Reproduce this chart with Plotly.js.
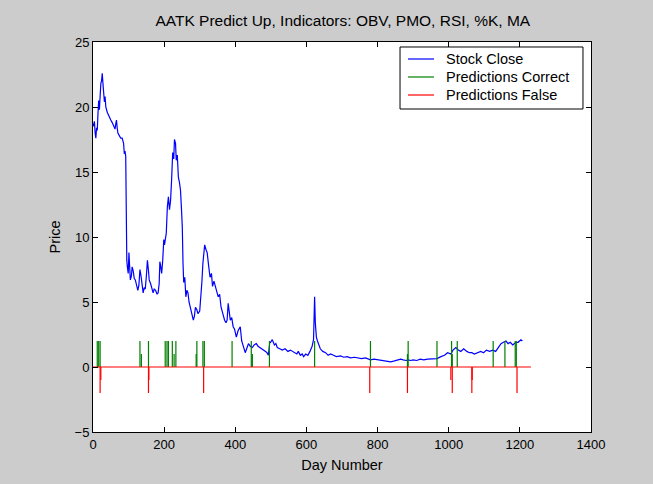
<!DOCTYPE html>
<html>
<head>
<meta charset="utf-8">
<script src="https://cdn.plot.ly/plotly-3.0.1.min.js"></script>
<style>html,body{margin:0;padding:0;background:#cccccc;}#chart{width:653px;height:484px;}</style>
</head>
<body>
<div id="chart"></div>
<script>
// Stock close (day number, price)
const days = [0,4,6,8,10,12,14,16,18,20,22,24,26,28,30,32,34,36,40,44,50,54,58,62,64,66,68,70,74,78,82,86,88,90,92,
93,95,97,99,101,103,105,108,110,113,116,119,122,126,129,132,135,138,141,144,147,150,153,156,158,162,166,169,172,176,180,183,186,188,190,193,196,199,201,203,206,209,212,215,218,221,224,227,229,232,234,237,240,243,246,249,251,253,255,258,261,264,267,270,273,276,279,282,285,288,292,295,300,303,306,309,312,314,318,321,325,329,333,336,340,344,348,352,356,360,364,367,370,374,377,380,383,386,390,394,398,403,408,414,418,423,428,432,437,442,448,453,459,464,470,477,485,489,493,497,499,504,510,514,518,525,532,540,548,555,562,569,573,577,583,588,592,598,604,610,616,620,623,625,628,631,635,639,646,654,661,668,676,684,696,705,714,724,735,745,755,766,773,780,790,800,810,820,830,837,845,855,865,872,880,886,893,900,910,920,930,940,949,958,967,978,988,997,1006,1012,1020,1027,1034,1042,1046,1051,1058,1065,1072,1082,1090,1098,1106,1115,1124,1132,1140,1147,1154,1161,1167,1173,1180,1185,1189,1195,1203,1207,1211,1216,1220,1224,1228,1231];
const closePrice = [18.5,18.9,18.0,17.6,18.4,18.2,19.5,20.5,19.8,21.0,21.8,22.0,22.6,21.8,21.3,20.4,20.8,20.0,19.6,19.3,19.0,18.8,18.6,18.3,18.7,19.0,18.4,18.0,17.8,17.6,17.6,17.2,16.4,16.6,16.2,
9.0,8.2,7.6,7.2,8.8,7.6,6.7,7.0,7.7,7.4,6.8,6.7,6.4,5.9,6.3,7.5,7.0,6.0,5.7,6.1,6.0,7.0,8.2,7.4,6.7,6.4,5.9,5.7,6.0,5.9,5.6,5.7,6.4,8.1,7.8,7.2,8.2,9.8,9.4,10.0,10.3,12.3,13.1,12.1,12.8,14.4,16.5,16.0,17.5,17.2,15.9,16.3,14.6,14.2,13.6,12.0,10.8,8.0,6.5,6.9,5.4,5.9,5.7,5.0,4.6,4.2,4.0,3.6,3.9,4.6,4.4,4.1,4.3,5.2,6.5,8.0,8.6,9.4,9.0,8.8,7.8,6.9,7.2,6.2,6.6,6.2,5.8,5.4,5.6,4.6,4.2,3.8,3.6,3.4,3.6,4.9,4.4,3.6,3.8,3.1,2.9,2.3,2.8,3.1,2.0,1.5,1.1,1.4,1.8,1.6,1.5,1.7,1.8,1.6,1.5,1.4,1.2,1.1,0.9,1.9,1.9,2.1,1.7,1.8,1.5,1.4,1.3,1.4,1.2,1.3,1.2,1.1,1.0,1.2,0.9,1.0,0.8,1.0,0.9,1.2,1.6,2.1,5.4,3.4,2.3,2.0,1.7,1.4,1.2,1.1,0.9,1.0,0.9,0.8,0.85,0.75,0.8,0.7,0.75,0.7,0.65,0.7,0.6,0.55,0.6,0.55,0.5,0.5,0.45,0.4,0.45,0.5,0.6,0.55,0.5,0.55,0.5,0.55,0.5,0.6,0.55,0.6,0.6,0.6,0.65,0.8,0.9,1.1,1.0,1.3,1.5,1.3,1.2,1.4,1.3,1.2,1.1,1.1,1.0,1.1,1.2,1.1,1.3,1.2,1.3,1.2,1.5,1.8,1.9,2.0,1.8,1.9,1.7,1.8,1.9,1.9,2.1,2.0];

// Prediction markers: day and signal height
const correctDays = [12,16,20,132,136,156,203,208,212,223,228,233,290,292,309,313,391,445,448,496,623,780,884,886,967,1008,1010,1024,1125,1158,1187,1190];
const correctHeights = [2,2,2,2,1,2,2,2,2,2,1,2,1,2,2,2,2,2,1,2,2,2,1,2,2,2,1,2,2,2,2,2];
const falseDays = [20,22,156,157,311,778,884,1006,1010,1065,1066,1192];
const falseHeights = [-2,-1,-2,-1,-2,-2,-2,-1,-2,-2,-1,-2];

const seriesNames = ['Stock Close','Predictions Correct','Predictions False'];
const seriesColors = ['#0000ff','#008000','#ff0000'];

function sticks(ds, hs){
  const x=[], y=[];
  ds.forEach((d,i)=>{ x.push(d,d,null); y.push(0,hs[i],null); });
  return {x,y};
}
const g = sticks(correctDays, correctHeights);
const r = sticks(falseDays, falseHeights);
r.x.push(days[0], days[days.length-1], null);
r.y.push(0, 0, null);

const traces = [
  {x: days, y: closePrice, type:'scatter', mode:'lines', name:seriesNames[0], line:{color:seriesColors[0], width:1.2}},
  {x: g.x, y: g.y, type:'scatter', mode:'lines', name:seriesNames[1], line:{color:seriesColors[1], width:1.2}, connectgaps:false},
  {x: r.x, y: r.y, type:'scatter', mode:'lines', name:seriesNames[2], line:{color:seriesColors[2], width:1.2}, connectgaps:false}
];

// MATLAB-style legend box (paper coordinates)
const fam = '"Liberation Sans", Arial, sans-serif';
const shapes = [{type:'rect', xref:'paper', yref:'paper', x0:0.6165, x1:0.9839, y0:0.8282, y1:0.9872, fillcolor:'#ffffff', line:{color:'#000', width:1}, layer:'above'}];
const annotations = [];
const rowY = [0.9564, 0.9103, 0.8641];
seriesNames.forEach((nm,i)=>{
  shapes.push({type:'line', xref:'paper', yref:'paper', x0:0.6325, x1:0.6847, y0:rowY[i], y1:rowY[i], line:{color:seriesColors[i], width:1.2}, layer:'above'});
  annotations.push({xref:'paper', yref:'paper', x:0.7048, y:rowY[i], xanchor:'left', yanchor:'middle', text:nm, showarrow:false, font:{family:fam, size:14.5, color:'#000'}});
});

const layout = {
  width:653, height:484,
  paper_bgcolor:'#cccccc', plot_bgcolor:'#ffffff',
  margin:{l:93, r:62, t:42, b:52},
  font: {family:fam, size:13, color:'#000000'},
  showlegend:false,
  shapes: shapes,
  annotations: annotations,
  title:{text:'AATK Predict Up, Indicators: OBV, PMO, RSI, %K, MA', font:{family:fam, size:15.5, color:'#000'}, x:0.525, xanchor:'center', y:1-21/484, yanchor:'middle', yref:'container'},
  xaxis:{range:[0,1400], tickvals:[0,200,400,600,800,1000,1200,1400], ticks:'inside', ticklen:5, tickcolor:'#000', showline:true, linecolor:'#000', linewidth:1, mirror:'ticks', showgrid:false, zeroline:false, tickfont:{size:13}, title:{text:'Day Number', font:{size:14.5}, standoff:9}},
  yaxis:{range:[-5,25], tickvals:[-5,0,5,10,15,20,25], ticks:'inside', ticklen:5, tickcolor:'#000', showline:true, linecolor:'#000', linewidth:1, mirror:'ticks', showgrid:false, zeroline:false, tickfont:{size:13}, title:{text:'Price', font:{size:14.5}, standoff:10}}
};
Plotly.newPlot('chart', traces, layout, {displayModeBar:false, staticPlot:true});
</script>
</body>
</html>
